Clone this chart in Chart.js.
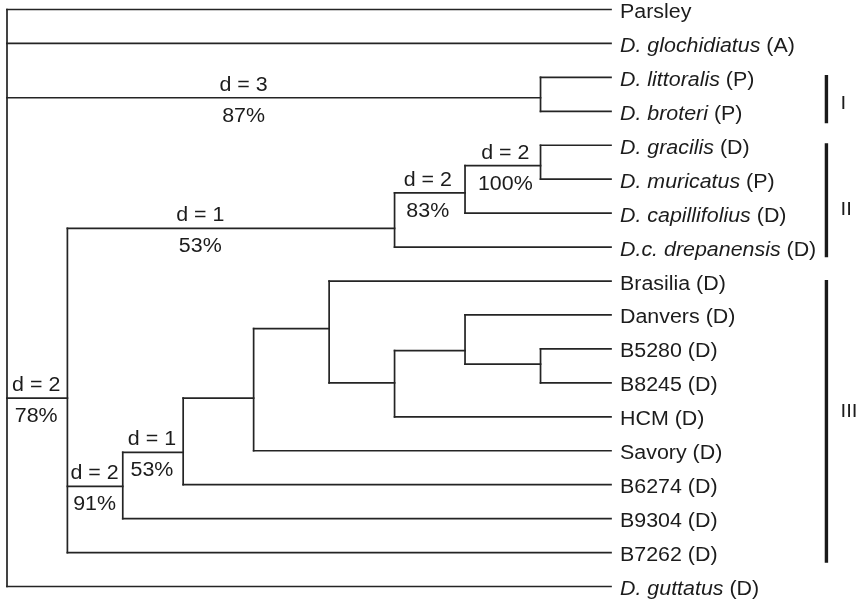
<!DOCTYPE html>
<html>
<head>
<meta charset="utf-8">
<script src="https://cdn.jsdelivr.net/npm/chart.js@4.4.1/dist/chart.umd.min.js"></script>
<style>
  html, body { margin: 0; padding: 0; background: #fff; }
  #wrap { width: 859px; height: 604px; position: relative; }
</style>
</head>
<body>
<div id="wrap"><canvas id="tree"></canvas></div>
<script>
// tips, top to bottom (position = index)
const leafNames = ['Parsley', 'D. glochidiatus', 'D. littoralis', 'D. broteri', 'D. gracilis',
  'D. muricatus', 'D. capillifolius', 'D.c. drepanensis', 'Brasilia', 'Danvers', 'B5280',
  'B8245', 'HCM', 'Savory', 'B6274', 'B9304', 'B7262', 'D. guttatus'];
const leafTags = ['', '(A)', '(P)', '(P)', '(D)', '(P)', '(D)', '(D)', '(D)', '(D)', '(D)',
  '(D)', '(D)', '(D)', '(D)', '(D)', '(D)', '(D)'];
const leafItalic = [false, true, true, true, true, true, true, true, false, false, false,
  false, false, false, false, false, false, true];
const leafParent = ['root', 'root', 'A', 'A', 'B', 'B', 'C', 'D', 'I', 'K', 'L', 'L', 'J',
  'H', 'G', 'F', 'E', 'root'];
const tipDepth = 60;

// internal nodes
const nodeIds    = ['root', 'A', 'B', 'C', 'D', 'E', 'F', 'G', 'H', 'I', 'J', 'K', 'L'];
const nodeDepth  = [0, 53, 53, 45.5, 38.5, 6, 11.5, 17.5, 24.5, 32, 38.5, 45.5, 53];
const nodePos    = [8.5, 2.6, 4.6, 5.4, 6.45, 11.45, 14.05, 13.05, 11.45, 9.4, 11.0, 10.05, 10.45];
const nodeParent = [null, 'root', 'C', 'D', 'E', 'root', 'E', 'F', 'G', 'H', 'I', 'J', 'K'];

// branch annotations (distance above, bootstrap below)
const branchNodes   = ['A', 'D', 'C', 'B', 'E', 'F', 'G'];
const branchDist    = ['d = 3', 'd = 1', 'd = 2', 'd = 2', 'd = 2', 'd = 2', 'd = 1'];
const branchSupport = ['87%', '53%', '83%', '100%', '78%', '91%', '53%'];
const branchLabelAt = [23.5, 19.2, 41.8, 49.5, 2.9, 8.7, 14.4];

// clade brackets on the right
const cladeNames  = ['I', 'II', 'III'];
const cladeTop    = [1.93, 3.94, 7.97];
const cladeBottom = [3.35, 7.3, 16.3];
const cladeMid    = [2.73, 5.85, 11.8];
const cladeBarX = 81.4;
const cladeTextX = 82.8;

const INK = '#242424';
const FONT = '"Liberation Sans", Arial, Helvetica, sans-serif';
const STRETCH = 1.07;   // lettering is a little wider than plain Arial

const idx = id => nodeIds.indexOf(id);
const segments = [];

// horizontal branches
nodeIds.forEach((id, i) => {
  if (nodeParent[i] === null) return;
  const p = idx(nodeParent[i]);
  segments.push([{x: nodeDepth[p], y: nodePos[i]}, {x: nodeDepth[i], y: nodePos[i]}]);
});
leafNames.forEach((n, i) => {
  const p = idx(leafParent[i]);
  segments.push([{x: nodeDepth[p], y: i}, {x: tipDepth, y: i}]);
});

// vertical connectors spanning each node's children
nodeIds.forEach((id, i) => {
  const ys = [];
  nodeParent.forEach((par, j) => { if (par === id) ys.push(nodePos[j]); });
  leafParent.forEach((par, j) => { if (par === id) ys.push(j); });
  segments.push([{x: nodeDepth[i], y: Math.min(...ys)}, {x: nodeDepth[i], y: Math.max(...ys)}]);
});

const datasets = segments.map(s => ({
  data: s, showLine: true, borderColor: INK, borderWidth: 1.7,
  borderCapStyle: 'square', pointRadius: 0, clip: false
}));

cladeNames.forEach((c, i) => {
  datasets.push({
    data: [{x: cladeBarX, y: cladeTop[i]}, {x: cladeBarX, y: cladeBottom[i]}],
    showLine: true, borderColor: '#1a1a1a', borderWidth: 3.4,
    pointRadius: 0, clip: false
  });
});

function drawText(ctx, str, x, y, align) {
  ctx.save();
  ctx.translate(x, y);
  ctx.scale(STRETCH, 1);
  ctx.textAlign = align;
  ctx.fillText(str, 0, 0);
  ctx.restore();
}

const textPlugin = {
  id: 'treeText',
  afterDatasetsDraw(chart) {
    const ctx = chart.ctx;
    const xs = chart.scales.x, ys = chart.scales.y;
    ctx.save();
    ctx.fillStyle = '#1c1c1c';
    ctx.textBaseline = 'alphabetic';

    // tip labels
    leafNames.forEach((name, i) => {
      let x = xs.getPixelForValue(tipDepth) + 9;
      const y = ys.getPixelForValue(i) + 8.5;
      ctx.font = (leafItalic[i] ? 'italic ' : '') + '20px ' + FONT;
      drawText(ctx, name, x, y, 'left');
      if (leafTags[i]) {
        x += ctx.measureText(name + ' ').width * STRETCH;
        ctx.font = '20px ' + FONT;
        drawText(ctx, leafTags[i], x, y, 'left');
      }
    });

    // branch labels
    ctx.font = '20px ' + FONT;
    branchNodes.forEach((id, k) => {
      const i = idx(id);
      const cx = xs.getPixelForValue(branchLabelAt[k]);
      const y = ys.getPixelForValue(nodePos[i]);
      drawText(ctx, branchDist[k], cx, y - 7, 'center');
      drawText(ctx, branchSupport[k], cx, y + 24, 'center');
    });

    // clade names
    ctx.font = '19px ' + FONT;
    cladeNames.forEach((c, i) => {
      drawText(ctx, c, xs.getPixelForValue(cladeTextX), ys.getPixelForValue(cladeMid[i]) + 7, 'left');
    });
    ctx.restore();
  }
};

new Chart(document.getElementById('tree'), {
  type: 'scatter',
  data: { datasets },
  options: {
    responsive: true,
    maintainAspectRatio: false,
    animation: false,
    events: [],
    layout: { padding: { left: 7, right: 248, top: 9.5, bottom: 17.5 } },
    scales: {
      x: { type: 'linear', min: 0, max: tipDepth, display: false },
      y: { type: 'linear', min: 0, max: leafNames.length - 1, reverse: true, display: false }
    },
    plugins: { legend: { display: false }, tooltip: { enabled: false } }
  },
  plugins: [textPlugin]
});
</script>
</body>
</html>
